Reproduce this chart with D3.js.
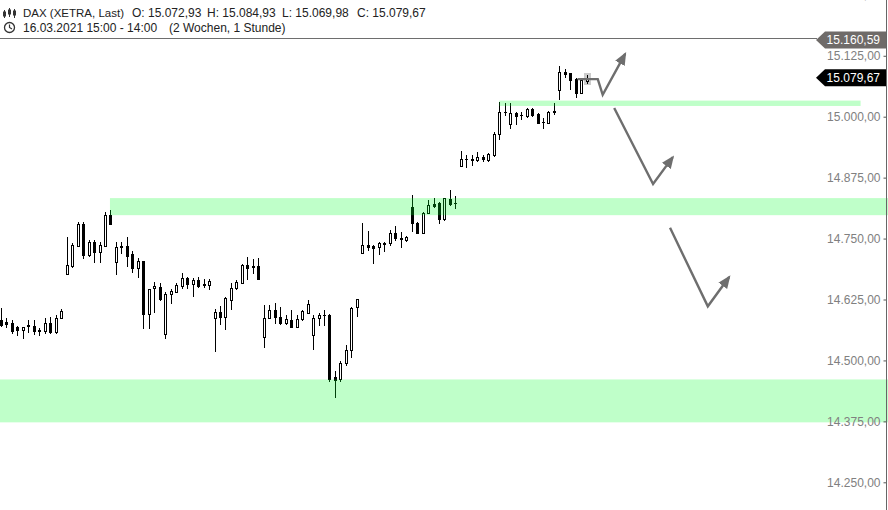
<!DOCTYPE html>
<html><head><meta charset="utf-8">
<script src="https://cdn.jsdelivr.net/npm/d3@7"></script>
<style>body{margin:0;background:#fff}svg{display:block}text{font-family:Arial,"Liberation Sans",sans-serif}</style>
</head><body><svg id="c" width="888" height="510"></svg>
<script>
// ---- data (hourly candles, DAX XETRA) ----
const opens  = [14582.8,14578.7,14576.7,14568.4,14562.3,14571.1,14570.5,14560.8,14560.8,14576.7,14558.2,14586.9,
14677.3,14693.7,14735.4,14780.0,14716.4,14743.0,14722.5,14735.4,14798.0,
14701.9,14735.4,14735.4,14718.8,14690.1,14704.5,14594.5,14648.5,14650.6,14553.5,14635.6,14640.9,14653.3,14669.1,14656.1,14665.0,14656.8,14655.3,
14586.9,14599.8,14589.6,14623.9,14647.9,14659.4,14695.8,14693.7,14693.7,
14547.3,14586.3,14603.4,14589.6,14577.3,14582.8,14567.9,14584.3,14597.8,14552.0,14586.3,14593.1,14593.1,14466.3,14461.0,14493.9,14521.2,14608.9,
14719.8,14736.9,14735.4,14733.4,14741.6,14740.0,14761.8,14751.0,14746.7,14815.1,14782.7,14762.1,14802.0,14821.0,14822.4,14789.5,14830.7,14822.4,
14899.1,14912.8,14913.4,14911.4,14918.2,14911.4,14921.7,14964.8,15010.6,14984.7,15008.5,15003.8,15001.8,15015.5,15005.9,14989.4,14988.0,15010.6,
15055.2,15092.7,15089.5,15077.1,15048.4,15072.93];
const highs  = [14607.5,14586.9,14582.8,14570.5,14569.1,14582.8,14582.8,14566.4,14586.9,14589.0,14593.1,14605.4,
14753.9,14741.0,14784.1,14784.7,14747.1,14747.1,14743.6,14804.6,14808.8,
14743.0,14743.0,14753.3,14723.5,14710.2,14704.5,14646.5,14661.5,14658.8,14640.3,14646.5,14658.8,14679.4,14671.8,14669.7,14671.1,14667.0,14667.0,
14605.4,14611.6,14630.7,14659.4,14665.0,14697.8,14712.8,14707.5,14709.5,
14613.6,14613.6,14618.4,14610.1,14593.1,14603.4,14593.1,14603.4,14623.9,14593.1,14597.8,14603.4,14595.1,14478.7,14499.2,14531.5,14608.9,14625.3,
14782.7,14766.2,14736.9,14743.6,14743.6,14767.3,14775.5,14763.8,14755.0,14839.5,14784.7,14805.2,14829.3,14832.7,14825.8,14832.7,14849.7,14837.5,
14930.5,14921.7,14921.7,14928.4,14921.7,14926.4,14969.5,15031.1,15029.1,15029.1,15010.6,15010.6,15017.6,15017.6,15007.3,14997.0,15012.6,15029.1,
15104.4,15097.7,15089.5,15079.2,15074.3,15084.93];
const lows   = [14570.5,14568.4,14556.1,14552.0,14545.8,14558.2,14554.1,14552.0,14556.1,14556.1,14556.1,14586.9,
14677.3,14691.7,14734.8,14710.2,14714.9,14701.9,14702.5,14735.4,14780.0,
14677.3,14720.4,14694.4,14682.4,14671.8,14567.0,14567.0,14599.2,14623.9,14546.5,14617.7,14640.3,14648.5,14648.5,14632.7,14650.6,14650.6,14646.5,
14519.8,14574.6,14564.3,14604.8,14645.9,14659.4,14666.4,14680.0,14666.4,
14528.0,14586.3,14577.3,14574.6,14574.6,14569.1,14567.9,14582.8,14597.8,14522.7,14572.5,14572.5,14457.5,14425.3,14457.5,14490.4,14506.2,14591.0,
14719.8,14726.6,14699.3,14718.8,14725.3,14736.5,14746.7,14733.0,14745.4,14766.2,14762.1,14762.1,14802.0,14815.5,14782.7,14788.2,14819.0,14812.2,
14899.1,14896.4,14901.1,14910.0,14910.0,14910.0,14919.6,14954.5,15003.8,14977.7,14985.3,14995.0,14999.1,15001.8,14988.0,14977.7,14988.0,15005.9,
15036.1,15081.2,15056.6,15041.4,15048.4,15069.98];
const closes = [14572.5,14574.6,14560.2,14562.3,14568.4,14572.5,14560.2,14561.7,14576.7,14558.2,14586.9,14601.3,
14695.8,14736.9,14780.0,14716.4,14743.6,14722.5,14736.9,14798.0,14780.0,
14733.4,14732.8,14714.9,14690.1,14704.5,14594.5,14646.5,14653.3,14625.3,14635.6,14642.4,14654.7,14669.1,14656.8,14665.0,14652.7,14655.3,14663.6,
14599.8,14589.6,14627.4,14649.2,14661.5,14695.8,14689.0,14691.7,14666.4,
14586.3,14603.4,14589.6,14576.0,14584.9,14569.1,14584.3,14601.3,14615.7,14586.3,14593.1,14592.5,14461.6,14459.6,14493.9,14521.2,14606.8,14625.3,
14736.9,14733.4,14730.1,14741.6,14738.9,14761.8,14750.3,14749.5,14753.6,14781.0,14762.1,14803.2,14819.0,14816.9,14789.5,14832.7,14821.0,14822.0,
14912.8,14912.3,14912.0,14918.2,14912.8,14923.1,14964.8,15010.6,15010.0,15008.5,15001.8,15003.2,15015.5,15003.8,14988.0,14990.0,15010.6,15011.4,
15090.7,15088.0,15074.3,15048.4,15074.3,15079.67];

const tickValues = [14250,14375,14500,14625,14750,14875,15000,15125,15250];
// support / resistance zones (price ranges) with bar-index extents
const zoneLow   = [15022, 14798, 14373];
const zoneHigh  = [15033, 14833, 14461];
const zoneFrom  = [91, 19.9, -2];
const zoneTo    = [157, 175, 175];
// scenario arrows (bar index, price)
const arrowPaths = [
  [[105.3,15077],[109,15077],[109.9,15045],[114,15129]],
  [[112,15018],[119.1,14862],[122.7,14917]],
  [[122.2,14772],[129.1,14611],[133,14671]]
];
const refLine = 15160.59;
const lastClose = 15079.67;
const headerTitle = "DAX (XETRA, Last)";
const headerOHLC = ["O: 15.072,93","H: 15.084,93","L: 15.069,98","C: 15.079,67"];
const headerDate = "16.03.2021 15:00 - 14:00";
const headerRange = "(2 Wochen, 1 Stunde)";

// ---- drawing ----
const svg = d3.select("#c");
const W = 888, H = 510, axisX = 886.5;
const x = d3.scaleLinear().domain([0, 107]).range([1, 1 + 107*5.475]);
const y = d3.scaleLinear().domain([14250, 15000]).range([482.3, 116.7]);
const de = d3.formatLocale({decimal:",", thousands:".", grouping:[3], currency:["","€"]});
const fmt = de.format(",.2f");

const candles = opens.map((o,i)=>({i, o, h:highs[i], l:lows[i], c:closes[i]}));

// selection highlight for last candle
const last = candles[candles.length-1];
svg.append("rect")
  .attr("x", Math.round(x(last.i)) - 3).attr("y", Math.round(y(last.h)) - 2)
  .attr("width", 7).attr("height", Math.round(y(last.l)) - Math.round(y(last.h)) + 4)
  .attr("fill", "#cccccc");

// reference horizontal line
svg.append("line").attr("x1",0).attr("x2",817)
  .attr("y1", Math.round(y(refLine))+0.5).attr("y2", Math.round(y(refLine))+0.5)
  .attr("stroke","#6e6e6e").attr("stroke-width",1);

const g = svg.append("g");
candles.forEach(d=>{
  const cx = Math.round(x(d.i));
  g.append("line").attr("x1",cx+0.5).attr("x2",cx+0.5)
    .attr("y1",Math.round(y(d.h))).attr("y2",Math.round(y(d.l))+1)
    .attr("stroke","#000").attr("stroke-width",1);
  const yo = Math.round(y(d.o)), yc = Math.round(y(d.c));
  const top = Math.min(yo,yc), bot = Math.max(yo,yc);
  const up = d.c >= d.o;
  if (bot - top < 1) {
    g.append("line").attr("x1",cx-1).attr("x2",cx+2).attr("y1",top+0.5).attr("y2",top+0.5)
      .attr("stroke","#000");
  } else {
    g.append("rect").attr("x",cx-0.5).attr("y",top+0.5).attr("width",2).attr("height",bot-top)
      .attr("fill", up ? "#fff" : "#000").attr("stroke","#000").attr("stroke-width",1);
  }
});

// zones on top (semi-transparent)
zoneLow.forEach((lo,k)=>{
  const x0 = Math.max(0, x(zoneFrom[k])), x1 = Math.min(W, x(zoneTo[k]));
  svg.append("rect").attr("x",x0).attr("width",x1-x0)
    .attr("y", y(zoneHigh[k])).attr("height", y(zoneLow[k]) - y(zoneHigh[k]))
    .attr("fill","rgb(0,255,40)").attr("fill-opacity",0.25);
});

// arrows
const defs = svg.append("defs");
defs.append("marker").attr("id","ah").attr("viewBox","0 0 12 10")
  .attr("refX",10).attr("refY",5).attr("markerWidth",13).attr("markerHeight",11)
  .attr("markerUnits","userSpaceOnUse").attr("orient","auto")
  .append("path").attr("d","M0,0 L12,5 L0,10 z").attr("fill","#6e6e6e");
const lineGen = d3.line().x(p=>x(p[0])).y(p=>y(p[1]));
arrowPaths.forEach(pts=>{
  svg.append("path").attr("d", lineGen(pts)).attr("fill","none")
    .attr("stroke","#6e6e6e").attr("stroke-width",2.4).attr("stroke-linejoin","miter")
    .attr("marker-end","url(#ah)");
});

// right axis
const axis = d3.axisLeft(y).tickValues(tickValues).tickSize(3).tickPadding(3).tickFormat(fmt);
const ag = svg.append("g").attr("transform",`translate(${axisX},0)`).call(axis);
ag.select(".domain").remove();
ag.selectAll(".tick line").attr("stroke","#555");
ag.selectAll(".tick text").attr("fill","#808080").style("font-size","12px")
  .style("font-family","Arial, 'Liberation Sans', sans-serif");
svg.append("line").attr("x1",axisX).attr("x2",axisX).attr("y1",0).attr("y2",H)
  .attr("stroke","#666").attr("stroke-width",1);

// price tags
function tag(price, fill, yc){
  const x0 = 816, x1 = 886, hh = 8.5;
  svg.append("path").attr("d",`M${x0},${yc} L${x0+9},${yc-hh} L${x1},${yc-hh} L${x1},${yc+hh} L${x0+9},${yc+hh} Z`)
    .attr("fill",fill);
  svg.append("text").attr("x",880).attr("y",yc).attr("dy","0.35em").attr("text-anchor","end")
    .attr("fill","#fff").style("font-size","12px").text(fmt(price));
}
tag(refLine, "#6f6b69", y(refLine)+1.5);
tag(lastClose, "#000", y(lastClose));

// header
const hdr = svg.append("g").attr("fill","#222").style("font-size","12px");
hdr.append("text").attr("x",23).attr("y",17).style("font-size","11.5px").attr("textLength",101).text(headerTitle);
const ohlcX = [132, 207, 282, 357];
headerOHLC.forEach((t,k)=>hdr.append("text").attr("x",ohlcX[k]).attr("y",17).text(t));
hdr.append("text").attr("x",23).attr("y",32).text(headerDate);
hdr.append("text").attr("x",169).attr("y",32).text(headerRange);
// icons
const ic = svg.append("g").attr("stroke","#333").attr("fill","none").attr("stroke-width",1);
[[4.5,10,18,12,16],[9.5,8,17,10,14],[14.5,9,18,11,15]].forEach(b=>{
  ic.append("line").attr("x1",b[0]).attr("x2",b[0]).attr("y1",b[1]).attr("y2",b[2]);
  ic.append("rect").attr("x",b[0]-1).attr("y",b[3]).attr("width",2).attr("height",b[4]-b[3]);
});
ic.append("circle").attr("cx",9.5).attr("cy",27.5).attr("r",5).attr("stroke-width",1.3);
ic.append("path").attr("d","M9.5,24.5 L9.5,27.5 L12,29").attr("stroke-width",1.2);
</script></body></html>
